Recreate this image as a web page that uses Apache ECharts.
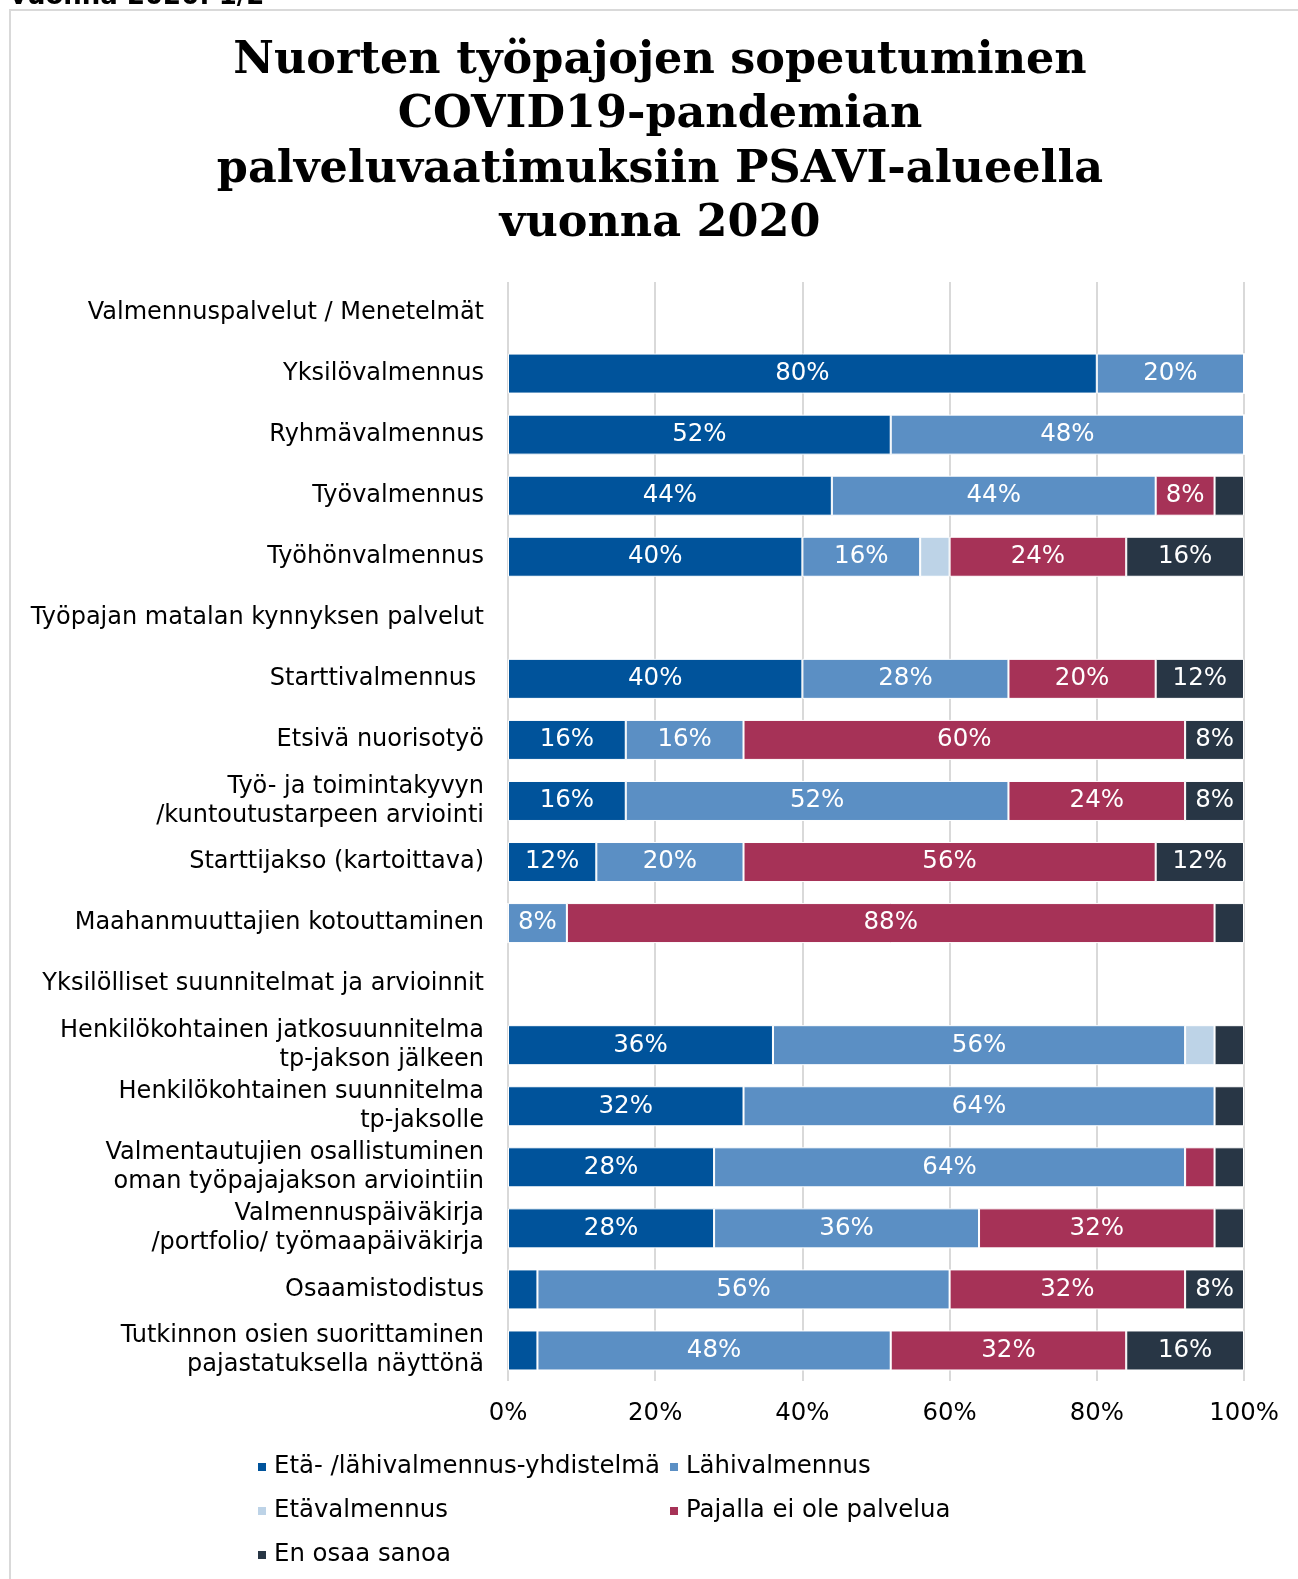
<!DOCTYPE html>
<html>
<head>
<meta charset="utf-8">
<script src="https://cdn.jsdelivr.net/npm/echarts@6/dist/echarts.min.js"></script>
<style>
  html, body { margin: 0; padding: 0; background: #ffffff; }
  #chart { width: 1298px; height: 1579px; }
</style>
</head>
<body>
<div id="chart"></div>
<script>
// Rows from top to bottom; group headings carry no values (null)
const categories = [
  'Valmennuspalvelut / Menetelmät',
  'Yksilövalmennus',
  'Ryhmävalmennus',
  'Työvalmennus',
  'Työhönvalmennus',
  'Työpajan matalan kynnyksen palvelut',
  'Starttivalmennus ',
  'Etsivä nuorisotyö',
  'Työ- ja toimintakyvyn\n/kuntoutustarpeen arviointi',
  'Starttijakso (kartoittava)',
  'Maahanmuuttajien kotouttaminen',
  'Yksilölliset suunnitelmat ja arvioinnit',
  'Henkilökohtainen jatkosuunnitelma\ntp-jakson jälkeen',
  'Henkilökohtainen suunnitelma\ntp-jaksolle',
  'Valmentautujien osallistuminen\noman työpajajakson arviointiin',
  'Valmennuspäiväkirja\n/portfolio/ työmaapäiväkirja',
  'Osaamistodistus',
  'Tutkinnon osien suorittaminen\npajastatuksella näyttönä'
];

const seriesNames = [
  'Etä- /lähivalmennus-yhdistelmä',
  'Lähivalmennus',
  'Etävalmennus',
  'Pajalla ei ole palvelua',
  'En osaa sanoa'
];

// Percentages per row
const yhdistelma = [null, 80, 52, 44, 40, null, 40, 16, 16, 12, 0, null, 36, 32, 28, 28, 4, 4];
const lahi       = [null, 20, 48, 44, 16, null, 28, 16, 52, 20, 8, null, 56, 64, 64, 36, 56, 48];
const eta        = [null, 0, 0, 0, 4, null, 0, 0, 0, 0, 0, null, 4, 0, 0, 0, 0, 0];
const eiPalvelua = [null, 0, 0, 8, 24, null, 20, 60, 24, 56, 88, null, 0, 0, 4, 32, 32, 32];
const enOsaa     = [null, 0, 0, 4, 16, null, 12, 8, 8, 12, 4, null, 4, 4, 4, 4, 8, 16];

const xTicks = [0, 20, 40, 60, 80, 100];

const colors = ['#00539b', '#5b8fc4', '#bdd3e7', '#a63257', '#283645'];
const values = [yhdistelma, lahi, eta, eiPalvelua, enOsaa];

const FONT = "'DejaVu Sans', Verdana, sans-serif";

const chart = echarts.init(document.getElementById('chart'), null, { renderer: 'canvas' });

const series = seriesNames.map((name, i) => ({
  name: name,
  type: 'bar',
  stack: 'total',
  barWidth: 40,
  data: values[i],
  itemStyle: { color: colors[i], borderColor: '#ffffff', borderWidth: 1 },
  label: {
    show: true,
    position: 'inside',
    color: '#ffffff',
    fontFamily: FONT,
    fontSize: 24.5,
    formatter: p => (p.value != null && p.value >= 8) ? p.value + '%' : ''
  },
  emphasis: { disabled: true }
}));

// One legend per entry so the two columns line up
const legendPos = [
  { left: 256, top: 1455 },
  { left: 668, top: 1455 },
  { left: 256, top: 1499 },
  { left: 668, top: 1499 },
  { left: 256, top: 1543 }
];
const legends = legendPos.map((pos, i) => ({
  data: [seriesNames[i]],
  left: pos.left,
  top: pos.top,
  icon: 'rect',
  itemWidth: 10,
  itemHeight: 10,
  padding: 0,
  selectedMode: false,
  textStyle: { fontFamily: FONT, fontSize: 24.4, color: '#000000', padding: [0, 0, 0, 2] }
}));

chart.setOption({
  animation: false,
  backgroundColor: '#ffffff',
  color: colors,
  title: {
    text: 'Nuorten työpajojen sopeutuminen\nCOVID19-pandemian\npalveluvaatimuksiin PSAVI-alueella\nvuonna 2020',
    left: 660,
    textAlign: 'center',
    top: 34,
    padding: 0,
    textStyle: {
      fontFamily: "'DejaVu Serif', Georgia, serif",
      fontWeight: 'bold',
      fontSize: 44.5,
      lineHeight: 54.5,
      color: '#000000'
    }
  },
  legend: legends,
  grid: { left: 508, right: 54, top: 282, height: 1099, containLabel: false },
  xAxis: {
    type: 'value',
    min: 0,
    max: 100,
    interval: 20,
    axisLine: { show: false },
    axisTick: { show: false },
    splitLine: { show: true, lineStyle: { color: '#d9d9d9', width: 2 } },
    axisLabel: {
      formatter: v => xTicks.includes(v) ? v + '%' : '',
      fontFamily: FONT,
      fontSize: 24.4,
      color: '#000000',
      margin: 21
    }
  },
  yAxis: {
    type: 'category',
    inverse: true,
    data: categories,
    axisLine: { show: false },
    axisTick: { show: false },
    axisLabel: {
      fontFamily: FONT,
      fontSize: 24,
      lineHeight: 29,
      color: '#000000',
      margin: 24
    }
  },
  graphic: [
    {
      type: 'rect',
      shape: { x: 10, y: 10, width: 1320, height: 1620 },
      style: { fill: null, stroke: '#d9d9d9', lineWidth: 2 },
      silent: true
    },
    {
      type: 'text',
      x: 10,
      y: -3,
      style: {
        text: 'vuonna 2020: 1/2',
        fontFamily: FONT,
        fontWeight: 'bold',
        fontSize: 26,
        fill: '#000000',
        verticalAlign: 'middle'
      },
      silent: true
    }
  ],
  series: series
});
</script>
</body>
</html>
